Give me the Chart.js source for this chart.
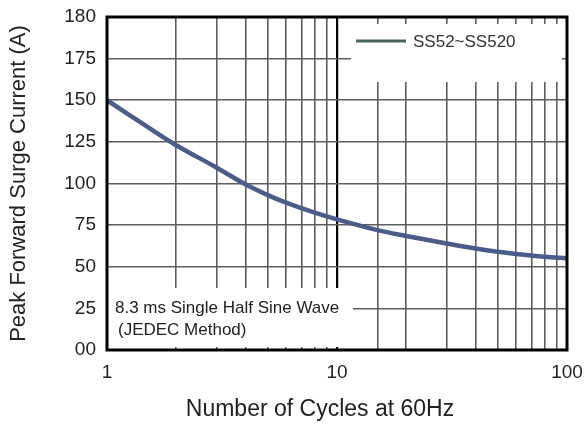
<!DOCTYPE html>
<html>
<head>
<meta charset="utf-8">
<script src="https://cdn.jsdelivr.net/npm/chart.js@4/dist/chart.umd.min.js"></script>
<style>
html,body{margin:0;padding:0;background:#fff;}
#wrap{width:584px;height:424px;}
</style>
</head>
<body>
<div id="wrap"><canvas id="c" width="584" height="424"></canvas></div>
<script>
// Data
const cycles = [1, 1.5, 2, 3, 4, 5, 6, 8, 10, 15, 20, 30, 40, 50, 60, 80, 100];
const surgeCurrent = [150, 134, 123, 109.5, 99.5, 93, 88.5, 82.5, 78.5, 72, 68.5, 64, 61, 59, 57.7, 56, 55];
const seriesName = 'SS52~SS520';
const yTickLabels = {0: '00', 25: '25', 50: '50', 75: '75', 100: '100', 125: '125', 150: '150', 175: '175', 200: '180'};
const xTickLabels = [1, 10, 100];
const noteLines = ['8.3 ms Single Half Sine Wave', '(JEDEC Method)'];
const xTitle = 'Number of Cycles at 60Hz';
const yTitle = 'Peak Forward Surge Current (A)';

const FONT = "'Liberation Sans', Arial, sans-serif";
const GRID = '#5e5e5e';

const overlay = {
  id: 'overlay',
  beforeDatasetsDraw(chart) {
    const {ctx, chartArea: a} = chart;
    ctx.save();
    // legend box mask
    const lx0 = 351, ly0 = 24, ly1 = 82;
    ctx.fillStyle = '#fff';
    ctx.fillRect(lx0, ly0, a.right - 5 - lx0, ly1 - ly0);
    // note box mask
    const nx1 = 353, ny0 = 288;
    ctx.fillRect(a.left + 1, ny0, nx1 - a.left - 1, a.bottom - 3 - ny0);
    // legend
    const ly = 41;
    ctx.strokeStyle = '#46645f';
    ctx.lineWidth = 3;
    ctx.beginPath();
    ctx.moveTo(356, ly);
    ctx.lineTo(406, ly);
    ctx.stroke();
    ctx.fillStyle = '#333';
    ctx.font = '17px ' + FONT;
    ctx.textBaseline = 'middle';
    ctx.textAlign = 'left';
    ctx.fillText(seriesName, 413, ly + 1);
    // note text
    ctx.fillStyle = '#222';
    ctx.font = '17px ' + FONT;
    ctx.fillText(noteLines[0], 115, 308);
    ctx.fillText(noteLines[1], 118, 330);
    ctx.restore();
  },
  afterDraw(chart) {
    const {ctx, chartArea: a} = chart;
    ctx.save();
    ctx.strokeStyle = '#000';
    ctx.lineWidth = 3;
    ctx.strokeRect(a.left, a.top, a.right - a.left, a.bottom - a.top);
    // x axis title
    ctx.fillStyle = '#222';
    ctx.font = '23px ' + FONT;
    ctx.textAlign = 'center';
    ctx.textBaseline = 'middle';
    ctx.fillText(xTitle, 320, 410);
    ctx.restore();
  }
};

new Chart(document.getElementById('c'), {
  type: 'line',
  data: {
    datasets: [{
      label: seriesName,
      data: cycles.map((c, i) => ({x: c, y: surgeCurrent[i]})),
      borderColor: '#4a5d8a',
      borderWidth: 4.5,
      pointRadius: 0,
      fill: false,
      tension: 0.4
    }]
  },
  options: {
    responsive: false,
    animation: false,
    devicePixelRatio: 1,
    layout: {padding: {left: 0, right: 17, top: 17, bottom: 0}},
    plugins: {legend: {display: false}, tooltip: {enabled: false}},
    scales: {
      x: {
        type: 'logarithmic',
        min: 1, max: 100,
        afterFit(s) { s.height = 74; s.paddingLeft = 0; s.paddingRight = 0; },
        border: {display: false},
        grid: {
          drawTicks: false,
          color: ctx => (ctx.tick && ctx.tick.value === 10) ? '#000' : GRID,
          lineWidth: ctx => (ctx.tick && ctx.tick.value === 10) ? 2.2 : 1.6
        },
        ticks: {
          autoSkip: false, maxRotation: 0, padding: 11,
          color: '#222',
          font: {family: FONT, size: 19},
          callback: v => xTickLabels.includes(v) ? String(v) : ''
        },
        title: {display: false, text: xTitle}
      },
      y: {
        min: 0, max: 200,
        afterFit(s) { s.width = 107; s.paddingTop = 0; s.paddingBottom = 0; },
        border: {display: false},
        grid: {drawTicks: false, color: GRID, lineWidth: 1.6},
        ticks: {
          stepSize: 25, padding: 11,
          color: '#222',
          font: {family: FONT, size: 19},
          callback: v => yTickLabels[v] !== undefined ? yTickLabels[v] : ''
        },
        title: {
          display: true, text: yTitle,
          color: '#222', font: {family: FONT, size: 22},
          padding: {top: 6, bottom: 0}
        }
      }
    }
  },
  plugins: [overlay]
});
</script>
</body>
</html>
